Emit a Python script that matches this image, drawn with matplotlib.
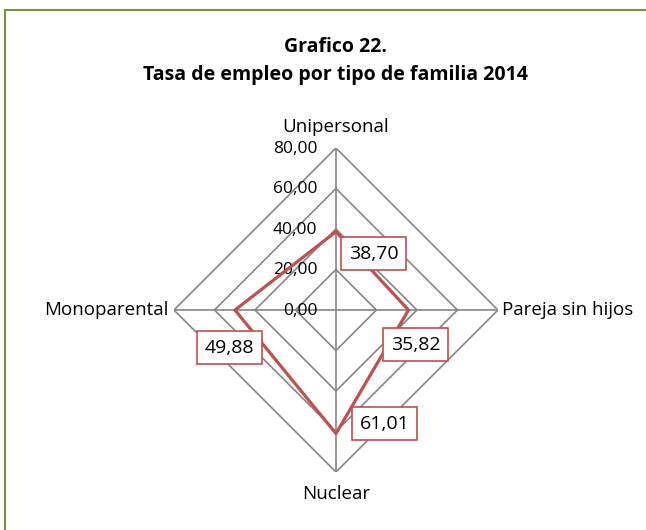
import numpy as np
import matplotlib.pyplot as plt
from matplotlib.patches import Rectangle

categories = ["Unipersonal", "Pareja sin hijos", "Nuclear", "Monoparental"]
values = [38.70, 35.82, 61.01, 49.88]
levels = [0, 20, 40, 60, 80]
level_labels = ["0,00", "20,00", "40,00", "60,00", "80,00"]
value_labels = ["38,70", "35,82", "61,01", "49,88"]

plt.rcParams["font.family"] = ["Open Sans", "DejaVu Sans"]
red = "#C0504D"
grey = "#868686"

fig = plt.figure(figsize=(6.46, 5.3), dpi=100)
fig.patches.append(Rectangle((5 / 646, -0.1), 1.2, 1.1 - 10 / 530, transform=fig.transFigure,
                             fill=False, edgecolor="#77933C", linewidth=1.5))

fig.text(0.52, 0.912, "Grafico 22.", ha="center", va="center", fontsize=14, fontweight="bold")
fig.text(0.52, 0.858, "Tasa de empleo por tipo de familia 2014", ha="center", va="center",
         fontsize=14, fontweight="bold")

ax = fig.add_axes([0.2693, 0.1094, 0.5015, 0.6113], projection="polar")
ax.set_theta_offset(np.pi / 2)
ax.set_theta_direction(-1)
ax.set_ylim(0, 80)
ax.grid(False)
ax.spines["polar"].set_visible(False)
ax.set_xticks([])
ax.set_yticks([])
ax.patch.set_alpha(0)

angles = np.arange(len(categories)) * 2 * np.pi / len(categories)
closed = np.append(angles, angles[0])

# diamond grid and spokes
for lv in levels[1:]:
    ax.plot(closed, [lv] * len(closed), color=grey, lw=1.2, zorder=1)
for a in angles:
    ax.plot([a, a], [0, levels[-1]], color=grey, lw=1.2, zorder=1)

# scale labels on the top axis
for lv, lab in zip(levels, level_labels):
    ax.annotate(lab, (0, lv), xytext=(-13.5, -0.5), textcoords="offset points",
                ha="right", va="center", fontsize=12.5, zorder=3)

# category labels
fs = 13.5
ax.annotate(categories[0], (angles[0], 80), xytext=(0, 15), textcoords="offset points",
            ha="center", va="center", fontsize=fs)
ax.annotate(categories[1], (angles[1], 80), xytext=(3, 0), textcoords="offset points",
            ha="left", va="center", fontsize=fs)
ax.annotate(categories[2], (angles[2], 80), xytext=(0, -16), textcoords="offset points",
            ha="center", va="center", fontsize=fs)
ax.annotate(categories[3], (angles[3], 80), xytext=(-4, 0), textcoords="offset points",
            ha="right", va="center", fontsize=fs)

vals = np.append(values, values[0])
ax.plot(closed, vals, color=red, lw=2.3, zorder=4)

offsets = [(27, -16), (5, -25), (35, 7), (-4, -27)]
for a, v, lab, off in zip(angles, values, value_labels, offsets):
    ax.annotate(lab, (a, v), xytext=off, textcoords="offset points", ha="center", va="center",
                fontsize=14, zorder=5,
                bbox=dict(boxstyle="square,pad=0.38", fc="white", ec=red, lw=1.2))

fig.savefig("out.png", dpi=100)
